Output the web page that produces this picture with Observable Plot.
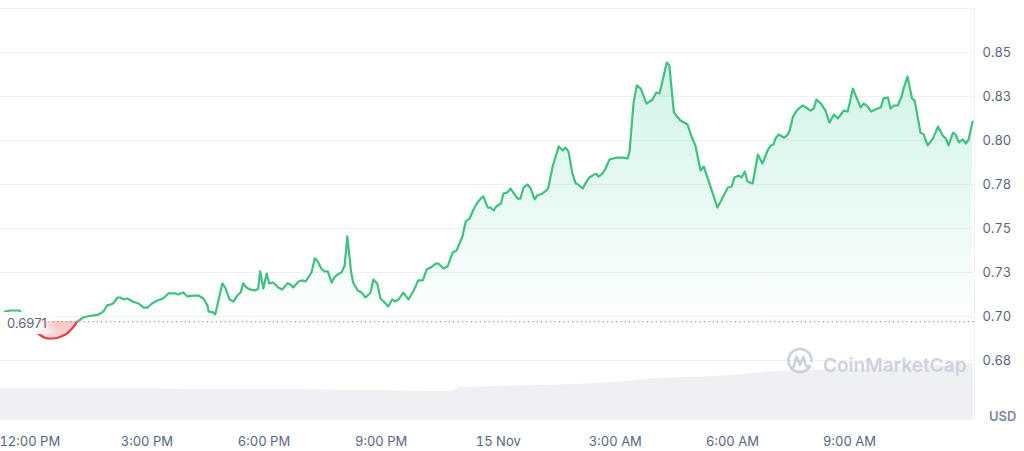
<!DOCTYPE html>
<html><head><meta charset="utf-8">
<script src="https://cdn.jsdelivr.net/npm/d3@7"></script>
<script src="https://cdn.jsdelivr.net/npm/@observablehq/plot@0.6"></script>
<style>
body{margin:0;background:#fff;font-family:Inter, sans-serif;}
#chart{position:relative;width:1024px;height:451px;}
#chart svg{position:absolute;left:0;top:0;}
</style></head><body><div id="chart"></div>
<script>
// ---- price series (Nov 14 -> Nov 15) ----
const times = [
"11-14 11:16","11-14 11:22","11-14 11:30","11-14 11:38","11-14 11:44","11-14 11:58","11-14 12:10","11-14 12:22","11-14 12:28","11-14 12:35",
"11-14 12:42","11-14 12:48","11-14 12:55","11-14 12:59","11-14 13:05","11-14 13:10","11-14 13:13","11-14 13:18","11-14 13:22","11-14 13:28",
"11-14 13:38","11-14 13:44","11-14 13:48","11-14 13:53","11-14 13:59","11-14 14:04","11-14 14:08","11-14 14:15","11-14 14:19","11-14 14:24",
"11-14 14:30","11-14 14:38","11-14 14:47","11-14 14:55","11-14 15:01","11-14 15:08","11-14 15:16","11-14 15:25","11-14 15:33","11-14 15:44",
"11-14 15:48","11-14 15:56","11-14 16:02","11-14 16:11","11-14 16:19","11-14 16:27","11-14 16:33","11-14 16:35","11-14 16:42","11-14 16:45",
"11-14 16:56","11-14 17:01","11-14 17:07","11-14 17:13","11-14 17:19","11-14 17:24","11-14 17:28","11-14 17:33","11-14 17:39","11-14 17:47",
"11-14 17:51","11-14 17:54","11-14 17:59","11-14 18:04","11-14 18:08","11-14 18:14","11-14 18:22","11-14 18:28","11-14 18:36","11-14 18:41",
"11-14 18:45","11-14 18:53","11-14 18:59","11-14 19:04","11-14 19:08","11-14 19:13","11-14 19:18","11-14 19:22","11-14 19:28","11-14 19:33",
"11-14 19:38","11-14 19:44","11-14 19:48","11-14 19:53","11-14 19:59","11-14 20:04","11-14 20:08","11-14 20:14","11-14 20:17","11-14 20:24",
"11-14 20:30","11-14 20:36","11-14 20:44","11-14 20:48","11-14 20:54","11-14 20:59","11-14 21:04","11-14 21:11","11-14 21:17","11-14 21:22",
"11-14 21:27","11-14 21:34","11-14 21:42","11-14 21:50","11-14 21:57","11-14 22:04","11-14 22:10","11-14 22:16","11-14 22:24","11-14 22:28",
"11-14 22:36","11-14 22:42","11-14 22:50","11-14 22:56","11-14 23:05","11-14 23:10","11-14 23:16","11-14 23:22","11-14 23:27","11-14 23:33",
"11-14 23:37","11-14 23:44","11-14 23:48","11-14 23:53","11-14 23:57",
"11-15 00:04","11-15 00:08","11-15 00:14","11-15 00:19","11-15 00:24","11-15 00:30","11-15 00:34","11-15 00:39","11-15 00:45","11-15 00:50",
"11-15 00:56","11-15 01:00","11-15 01:08","11-15 01:14","11-15 01:17","11-15 01:24","11-15 01:33","11-15 01:39","11-15 01:43","11-15 01:48",
"11-15 01:54","11-15 01:59","11-15 02:03","11-15 02:10","11-15 02:14","11-15 02:20","11-15 02:30","11-15 02:34","11-15 02:40","11-15 02:45",
"11-15 02:51","11-15 03:02","11-15 03:11","11-15 03:19","11-15 03:22","11-15 03:28","11-15 03:33","11-15 03:39","11-15 03:48","11-15 03:57",
"11-15 04:03","11-15 04:08","11-15 04:19","11-15 04:23","11-15 04:30","11-15 04:40","11-15 04:51","11-15 04:57","11-15 05:03","11-15 05:11",
"11-15 05:16","11-15 05:37","11-15 05:45","11-15 05:53","11-15 05:59","11-15 06:03","11-15 06:10","11-15 06:14","11-15 06:19","11-15 06:23",
"11-15 06:31","11-15 06:36","11-15 06:39","11-15 06:46","11-15 06:54","11-15 06:59","11-15 07:03","11-15 07:06","11-15 07:11","11-15 07:19",
"11-15 07:25","11-15 07:28","11-15 07:33","11-15 07:40","11-15 07:48","11-15 07:53","11-15 08:00","11-15 08:05","11-15 08:09","11-15 08:16",
"11-15 08:23","11-15 08:29","11-15 08:36","11-15 08:42","11-15 08:51","11-15 08:57","11-15 09:00","11-15 09:05","11-15 09:17","11-15 09:22",
"11-15 09:28","11-15 09:33","11-15 09:43","11-15 09:48","11-15 09:52","11-15 09:59","11-15 10:03","11-15 10:08","11-15 10:14","11-15 10:20",
"11-15 10:23","11-15 10:29","11-15 10:36","11-15 10:40","11-15 10:49","11-15 10:54","11-15 11:00","11-15 11:08","11-15 11:16","11-15 11:23",
"11-15 11:28","11-15 11:32","11-15 11:39","11-15 11:43","11-15 11:48","11-15 11:54","11-15 11:59","11-15 12:03","11-15 12:09"
];
const prices = [
0.7000,0.7028,0.7034,0.7034,0.7034,0.6966,0.6909,0.6881,0.6875,0.6875,
0.6878,0.6886,0.6898,0.6909,0.6932,0.6955,0.6972,0.6983,0.6994,0.7000,
0.7006,0.7009,0.7017,0.7028,0.7063,0.7068,0.7074,0.7108,0.7108,0.7097,
0.7102,0.7085,0.7074,0.7051,0.7051,0.7074,0.7091,0.7102,0.7131,0.7131,
0.7125,0.7136,0.7114,0.7119,0.7119,0.7102,0.7063,0.7028,0.7023,0.7011,
0.7188,0.7159,0.7097,0.7085,0.7119,0.7136,0.7188,0.7165,0.7153,0.7148,
0.7159,0.7256,0.7159,0.7244,0.7188,0.7193,0.7165,0.7153,0.7188,0.7182,
0.7165,0.7199,0.7205,0.7199,0.7222,0.7250,0.7330,0.7318,0.7273,0.7256,
0.7256,0.7193,0.7222,0.7239,0.7250,0.7290,0.7455,0.7250,0.7193,0.7148,
0.7136,0.7108,0.7136,0.7210,0.7188,0.7102,0.7085,0.7057,0.7097,0.7085,
0.7097,0.7136,0.7097,0.7148,0.7205,0.7205,0.7267,0.7278,0.7301,0.7301,
0.7273,0.7284,0.7364,0.7375,0.7455,0.7540,0.7557,0.7608,0.7642,0.7670,
0.7682,0.7619,0.7619,0.7602,0.7625,
0.7642,0.7699,0.7705,0.7727,0.7699,0.7670,0.7670,0.7733,0.7750,0.7727,
0.7665,0.7688,0.7699,0.7716,0.7733,0.7858,0.7966,0.7943,0.7960,0.7938,
0.7812,0.7756,0.7750,0.7727,0.7756,0.7790,0.7812,0.7795,0.7812,0.7841,
0.7892,0.7903,0.7903,0.7898,0.7943,0.8216,0.8313,0.8295,0.8210,0.8233,
0.8273,0.8267,0.8443,0.8426,0.8159,0.8114,0.8091,0.8023,0.7972,0.7830,
0.7852,0.7619,0.7676,0.7733,0.7739,0.7790,0.7801,0.7790,0.7824,0.7767,
0.7756,0.7858,0.7920,0.7869,0.7943,0.7972,0.7977,0.8011,0.8034,0.8017,
0.8034,0.8057,0.8136,0.8176,0.8199,0.8188,0.8170,0.8182,0.8233,0.8210,
0.8170,0.8102,0.8148,0.8125,0.8170,0.8165,0.8210,0.8295,0.8188,0.8210,
0.8193,0.8165,0.8182,0.8188,0.8239,0.8244,0.8182,0.8199,0.8199,0.8250,
0.8295,0.8364,0.8239,0.8227,0.8045,0.8034,0.7972,0.8011,0.8080,0.8028,
0.8011,0.7972,0.8045,0.8034,0.7989,0.8006,0.7983,0.8006,0.8108
];
const openPrice = 0.6971;

// ---- 24h volume (millions USD, approx.) ----
const volTimes = ["11-14 11:15","11-14 12:00","11-14 13:00","11-14 14:00","11-14 15:00","11-14 16:00","11-14 17:00","11-14 18:00","11-14 19:00","11-14 20:00","11-14 21:00","11-14 22:00","11-14 22:50","11-14 23:00","11-15 00:00","11-15 01:00","11-15 02:00","11-15 03:00","11-15 04:00","11-15 05:00","11-15 06:00","11-15 07:00","11-15 08:00","11-15 09:00","11-15 10:00","11-15 11:00","11-15 12:00","11-15 12:10"];
const volumes = [32,32,32,32,32,31,31,31,31,30,30,29,29,33,34,35,36,38,42,43,45,49,50,51,52,55,56,57];

// ---- axes ----
const yTicks = [0.675,0.70,0.725,0.75,0.775,0.80,0.825,0.85];
const yTickLabels = ["0.68","0.70","0.73","0.75","0.78","0.80","0.83","0.85"];
const gridValues = [0.675,0.70,0.725,0.75,0.775,0.80,0.825,0.85,0.875];
const xTickTimes = ["11-14 12:00","11-14 15:00","11-14 18:00","11-14 21:00","11-15 00:00","11-15 03:00","11-15 06:00","11-15 09:00"];
const xTickLabels = ["12:00 PM","3:00 PM","6:00 PM","9:00 PM","15 Nov","3:00 AM","6:00 AM","9:00 AM"];
const xDomain = ["11-14 11:15","11-15 12:12"];
const yDomain = [0.64091,0.875];
const currency = "USD";
const watermark = "CoinMarketCap";

const parse = s => d3.utcParse("%Y-%m-%d %H:%M")("2023-" + s);
const data = times.map((t,i)=>({date:parse(t), price:prices[i]}));
const volData = volTimes.map((t,i)=>({date:parse(t), volume:volumes[i]}));
const xLabelMap = new Map(xTickTimes.map((t,i)=>[+parse(t), xTickLabels[i]]));
const yLabelMap = new Map(yTicks.map((v,i)=>[v, yTickLabels[i]]));

const W=1024, H=451, MT=8, MB=31, ML=0, MR=50;
const GREEN="#3ec27e", RED="#e23b42";
const chart = document.getElementById("chart");

// volume layer (own y scale)
const vol = Plot.plot({
  width:W, height:H, marginTop:H-MB-100, marginBottom:MB, marginLeft:ML, marginRight:MR,
  style:{background:"transparent"},
  x:{type:"utc", domain:xDomain.map(parse), axis:null},
  y:{domain:[0,100], axis:null},
  marks:[Plot.areaY(volData,{x:"date", y:"volume", fill:"#eff0f4"})]
});
chart.appendChild(vol);

// price layer
const main = Plot.plot({
  width:W, height:H, marginTop:MT, marginBottom:MB, marginLeft:ML, marginRight:MR,
  style:{background:"transparent", fontFamily:"Inter, sans-serif", fontSize:"13px", color:"#58667e", overflow:"visible"},
  x:{type:"utc", domain:xDomain.map(parse), ticks:xTickTimes.map(parse), tickFormat:d=>xLabelMap.get(+d), tickSize:0, tickPadding:16, label:null},
  y:{domain:yDomain, ticks:yTicks, tickFormat:d=>yLabelMap.get(d), tickSize:0, tickPadding:8, axis:"right", label:null},
  marks:[
    Plot.ruleY(gridValues,{stroke:"#eff2f5", strokeOpacity:1}),
    Plot.ruleX([parse(xDomain[1])],{stroke:"#eff2f5", strokeOpacity:1}),
    Plot.areaY(data,{x:"date", y1:openPrice, y2:"price", fill:"url(#gGreen)", className:"area-up"}),
    Plot.areaY(data,{x:"date", y1:openPrice, y2:"price", fill:"url(#gRed)", className:"area-down"}),
    Plot.ruleY([openPrice],{stroke:"#8d94a3", strokeDasharray:"1.2,3.2", strokeWidth:1.2}),
    Plot.line(data,{x:"date", y:"price", stroke:GREEN, strokeWidth:2.2, className:"line-up"}),
    Plot.line(data,{x:"date", y:"price", stroke:RED, strokeWidth:2.2, className:"line-down"})
  ]
});
chart.appendChild(main);

const ys = main.scale("y");
const y0 = ys.apply(openPrice);
const yTop = ys.apply(d3.max(prices));
const yBot = ys.apply(d3.min(prices));
const svg = d3.select(main);
const defs = svg.insert("defs",":first-child");
defs.append("clipPath").attr("id","clipUp").append("rect").attr("x",-5).attr("y",-5).attr("width",W+10).attr("height",y0+5);
defs.append("clipPath").attr("id","clipDown").append("rect").attr("x",-5).attr("y",y0).attr("width",W+10).attr("height",H-y0);
const gg = defs.append("linearGradient").attr("id","gGreen").attr("gradientUnits","userSpaceOnUse").attr("x1",0).attr("x2",0).attr("y1",yTop).attr("y2",y0);
gg.append("stop").attr("offset","0").attr("stop-color","#16c784").attr("stop-opacity",0.2);
gg.append("stop").attr("offset","1").attr("stop-color","#16c784").attr("stop-opacity",0.01);
const gr = defs.append("linearGradient").attr("id","gRed").attr("gradientUnits","userSpaceOnUse").attr("x1",0).attr("x2",0).attr("y1",y0).attr("y2",yBot);
gr.append("stop").attr("offset","0").attr("stop-color","#ea3943").attr("stop-opacity",0.3);
gr.append("stop").attr("offset","1").attr("stop-color","#ea3943").attr("stop-opacity",0.2);
const gl = defs.append("linearGradient").attr("id","gLabel").attr("x1",0).attr("x2",1).attr("y1",0).attr("y2",0);
gl.append("stop").attr("offset","0").attr("stop-color","#fff").attr("stop-opacity",1);
gl.append("stop").attr("offset","0.7").attr("stop-color","#fff").attr("stop-opacity",0.92);
gl.append("stop").attr("offset","1").attr("stop-color","#fff").attr("stop-opacity",0);

svg.selectAll(".area-up,.line-up").attr("clip-path","url(#clipUp)");
svg.selectAll(".area-down,.line-down").attr("clip-path","url(#clipDown)");

// open price label
const lab = svg.append("g").attr("text-anchor","start");
lab.append("rect").attr("x",0).attr("y",y0-9).attr("width",56).attr("height",22).attr("fill","url(#gLabel)");
lab.append("text").attr("x",7).attr("y",y0+7).attr("fill","#58667e").attr("font-size",13).attr("font-family","Inter, sans-serif").text(openPrice.toFixed(4));

// currency label
svg.append("text").attr("text-anchor","start").attr("x",989).attr("y",421).attr("fill","#808a9d").attr("font-size",13).attr("font-weight",600).attr("font-family","Inter, sans-serif").text(currency);

// watermark
const wm = svg.append("g").attr("transform","translate(787,348)").attr("fill","none").attr("stroke","#cdd2dc").attr("stroke-width",2.8).attr("stroke-linecap","round").attr("stroke-linejoin","round");
wm.append("path").attr("d","M22.5,19 A11.5,11.5 0 1 1 24.5,13");
wm.append("path").attr("d","M6.5,19 L9.5,9 L13,16.5 L16.5,9 L18.5,16.5 Q19.5,19.5 23,18");
svg.append("text").attr("text-anchor","start").attr("x",823).attr("y",372).attr("fill","#cdd2dc").attr("font-size",19).attr("font-weight",600).attr("font-family","Inter, sans-serif").text(watermark);
</script></body></html>
